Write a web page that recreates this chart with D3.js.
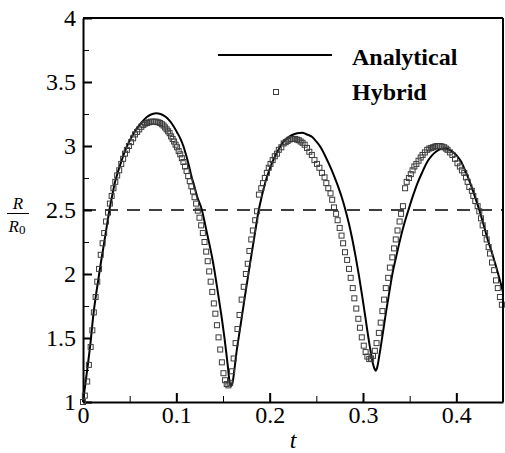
<!DOCTYPE html>
<html>
<head>
<meta charset="utf-8">
<script src="https://cdn.jsdelivr.net/npm/d3@7"></script>
<style>
    html, body { margin: 0; padding: 0; background: #fff; }
    text { font-family: "Liberation Serif", "Times New Roman", serif; }
</style>
</head>
<body>
<div id="chart"></div>
<script>
// Values (t, R/R0).
const xTicks = [0, 0.1, 0.2, 0.3, 0.4]
const xMinorTicks = [0.05, 0.15, 0.25, 0.35]
const yTicks = [1, 1.5, 2, 2.5, 3, 3.5, 4]
const yMinorTicks = [1.25, 1.75, 2.25, 2.75, 3.25, 3.75]
const thresholdR = 2.5
const seriesNames = ['Analytical', 'Hybrid']

const analyticalT = [
    0, 0.0025, 0.005, 0.008, 0.0111, 0.014, 0.0165, 0.0192, 0.0219, 0.025, 0.0283, 0.0315, 0.0344, 0.038, 0.0415,
    0.046, 0.0505, 0.056, 0.0612, 0.066, 0.0702, 0.0745, 0.0784, 0.083, 0.0881, 0.0925, 0.097, 0.1005, 0.1042,
    0.1075, 0.1106, 0.1137, 0.1167, 0.1195, 0.1221, 0.1274, 0.1302, 0.1328, 0.1355, 0.1382, 0.141, 0.1436, 0.1463,
    0.149, 0.1514, 0.1536, 0.1553, 0.1568, 0.1578, 0.1586, 0.1595, 0.1607, 0.1625, 0.1643, 0.1665, 0.1686, 0.1713,
    0.174, 0.1768, 0.1794, 0.1838, 0.1883, 0.192, 0.1955, 0.2, 0.2044, 0.209, 0.2134, 0.2188, 0.2241, 0.2295,
    0.2349, 0.24, 0.2456, 0.25, 0.2546, 0.259, 0.2635, 0.268, 0.2725, 0.277, 0.2814, 0.285, 0.2886, 0.292, 0.2957,
    0.2993, 0.3029, 0.3056, 0.3083, 0.31, 0.3118, 0.3128, 0.3136, 0.3145, 0.3155, 0.3172, 0.319, 0.3217, 0.3244,
    0.328, 0.3316, 0.336, 0.3405, 0.3445, 0.3487, 0.3535, 0.3584, 0.3638, 0.3692, 0.3737, 0.3781, 0.3825, 0.387,
    0.3915, 0.396, 0.4005, 0.4049, 0.4094, 0.4139, 0.4192, 0.4246, 0.429, 0.4336, 0.438, 0.4425, 0.45
]
const analyticalR = [
    1, 1.14, 1.28, 1.46, 1.68, 1.84, 1.96, 2.09, 2.21, 2.35, 2.5, 2.62, 2.72, 2.81, 2.89,
    2.98, 3.05, 3.12, 3.17, 3.21, 3.235, 3.25, 3.255, 3.25, 3.23, 3.2, 3.155, 3.11, 3.06,
    3, 2.925, 2.84, 2.75, 2.68, 2.61, 2.5, 2.41, 2.32, 2.23, 2.135, 2.02, 1.9, 1.77,
    1.64, 1.51, 1.38, 1.27, 1.17, 1.135, 1.125, 1.135, 1.17, 1.27, 1.38, 1.49, 1.59, 1.72,
    1.85, 1.98, 2.1, 2.3, 2.5, 2.62, 2.72, 2.82, 2.9, 2.965, 3.02, 3.06, 3.086, 3.1,
    3.104, 3.09, 3.07, 3.035, 2.99, 2.93, 2.86, 2.785, 2.7, 2.605, 2.495, 2.39, 2.27, 2.14, 1.985,
    1.82, 1.645, 1.51, 1.39, 1.32, 1.27, 1.252, 1.245, 1.255, 1.28, 1.35, 1.43, 1.56, 1.69,
    1.85, 2.005, 2.15, 2.29, 2.4, 2.5, 2.61, 2.71, 2.8, 2.88, 2.925, 2.955, 2.975, 2.98,
    2.975, 2.955, 2.925, 2.88, 2.81, 2.73, 2.62, 2.5, 2.39, 2.27, 2.17, 2.06, 1.86
]

const hybridT = [
    0, 0.002, 0.0045, 0.0063, 0.0082, 0.01, 0.0116, 0.0135, 0.0153, 0.0172, 0.019, 0.021, 0.0227, 0.0247, 0.0268,
    0.0288, 0.0307, 0.0326, 0.0346, 0.0366, 0.0388, 0.041, 0.043, 0.045, 0.047, 0.0492, 0.0515, 0.0537, 0.0557,
    0.058, 0.0602, 0.0625, 0.0646, 0.0666, 0.0686, 0.0706, 0.0726, 0.0746, 0.0766, 0.0786, 0.0806, 0.0826, 0.0845,
    0.0863, 0.088, 0.0896, 0.0912, 0.0928, 0.0944, 0.096, 0.0976, 0.0992, 0.1008, 0.1025, 0.1042, 0.1059, 0.1076,
    0.1093, 0.111, 0.1127, 0.1144, 0.1161, 0.1178, 0.1195, 0.1212, 0.123, 0.1248, 0.1266, 0.1284, 0.1302, 0.132,
    0.1336, 0.1352, 0.1368, 0.1385, 0.1402, 0.1418, 0.1435, 0.1452, 0.147, 0.1488, 0.1505, 0.1522, 0.154, 0.1558,
    0.1577, 0.1597, 0.1614, 0.1635, 0.1655, 0.1677, 0.17, 0.1722, 0.1745, 0.1765, 0.1783, 0.1803, 0.182, 0.1845,
    0.1865, 0.1885, 0.191, 0.1928, 0.1948, 0.197, 0.199, 0.2009, 0.2032, 0.2055, 0.2078, 0.2098, 0.2125, 0.215,
    0.2172, 0.2192, 0.2212, 0.2232, 0.2252, 0.2272, 0.2292, 0.2312, 0.2332, 0.2352, 0.2375, 0.24, 0.2425, 0.2452,
    0.248, 0.2507, 0.2533, 0.256, 0.2588, 0.2607, 0.2628, 0.2652, 0.267, 0.2689, 0.2712, 0.2728, 0.275, 0.277,
    0.2787, 0.2807, 0.283, 0.285, 0.2868, 0.289, 0.2907, 0.2928, 0.295, 0.2967, 0.2987, 0.3008, 0.3028, 0.3047,
    0.3067, 0.3087, 0.3107, 0.3127, 0.3145, 0.317, 0.319, 0.3208, 0.3226, 0.3244, 0.327, 0.3288, 0.3314, 0.3333,
    0.3351, 0.337, 0.3392, 0.3408, 0.3428, 0.3451, 0.3468, 0.3492, 0.3512, 0.3531, 0.355, 0.3572, 0.3595, 0.3618,
    0.3638, 0.3663, 0.3688, 0.371, 0.373, 0.375, 0.377, 0.379, 0.381, 0.383, 0.385, 0.387, 0.3888, 0.3906, 0.3931,
    0.3958, 0.3986, 0.4012, 0.4038, 0.406, 0.4085, 0.4103, 0.4121, 0.4139, 0.4166, 0.4182, 0.4203, 0.4228, 0.4246,
    0.4264, 0.4282, 0.4308, 0.4325, 0.4346, 0.4361, 0.4382, 0.4405, 0.4425, 0.4444, 0.4467, 0.4488
]
const hybridR = [
    1, 1.05, 1.16, 1.29, 1.43, 1.56, 1.7, 1.82, 1.94, 2.04, 2.15, 2.24, 2.32, 2.41, 2.48,
    2.55, 2.61, 2.67, 2.72, 2.77, 2.81, 2.86, 2.9, 2.94, 2.97, 3, 3.03, 3.06, 3.09,
    3.11, 3.13, 3.15, 3.165, 3.175, 3.18, 3.185, 3.19, 3.19, 3.19, 3.19, 3.185, 3.18, 3.17,
    3.16, 3.145, 3.13, 3.115, 3.1, 3.075, 3.055, 3.035, 3.01, 2.99, 2.96, 2.935, 2.905, 2.875,
    2.84, 2.805, 2.765, 2.725, 2.685, 2.645, 2.6, 2.55, 2.495, 2.44, 2.38, 2.32, 2.25, 2.175,
    2.1, 2.02, 1.94, 1.86, 1.77, 1.69, 1.6, 1.505, 1.41, 1.31, 1.225, 1.17, 1.14, 1.13,
    1.15, 1.24, 1.34, 1.46, 1.57, 1.68, 1.8, 1.9, 2, 2.08, 2.18, 2.27, 2.34, 2.42,
    2.49, 2.62, 2.67, 2.71, 2.75, 2.79, 2.83, 2.86, 2.89, 2.92, 2.94, 2.97, 2.99, 3.02,
    3.03, 3.04, 3.05, 3.055, 3.055, 3.055, 3.05, 3.045, 3.035, 3.025, 3.01, 2.985, 2.955, 2.93,
    2.89, 2.86, 2.83, 2.79, 2.755, 2.71, 2.67, 2.63, 2.58, 2.52, 2.47, 2.42, 2.36, 2.3,
    2.24, 2.17, 2.11, 2.04, 1.97, 1.89, 1.81, 1.73, 1.65, 1.58, 1.505, 1.44, 1.39, 1.355,
    1.335, 1.34, 1.36, 1.4, 1.46, 1.54, 1.62, 1.71, 1.8, 1.89, 1.97, 2.05, 2.13, 2.2,
    2.27, 2.34, 2.41, 2.47, 2.53, 2.67, 2.72, 2.75, 2.78, 2.81, 2.84, 2.86, 2.885, 2.91,
    2.93, 2.95, 2.97, 2.98, 2.985, 2.99, 2.995, 3, 3, 3, 2.995, 2.99, 2.98, 2.97, 2.95,
    2.93, 2.9, 2.865, 2.84, 2.81, 2.79, 2.755, 2.72, 2.68, 2.65, 2.61, 2.57, 2.53, 2.49,
    2.435, 2.38, 2.32, 2.27, 2.21, 2.16, 2.09, 2.03, 1.95, 1.89, 1.82, 1.76
]

function getTranslateString(x, y) {
    return 'translate(' + x + ', ' + y + ')'
}

class RadiusChart {
    constructor(width, height, divElementName) {
        this.width = width
        this.height = height
        this.divElementName = divElementName
        this.fontSize = 24
        this.initialize()
    }

    initialize = () => {
        this.setAxesStartAndEnd()
        this.createSVGInstance(this.divElementName)
        this.createXScale()
        this.createYScale()
        this.drawThresholdLine()
        this.drawAnalyticalLine()
        this.drawHybridSquares()
        this.drawFrame()
        this.createAxisLabels()
        this.drawLegend()
    }

    setAxesStartAndEnd = () => {
        this.xAxisStart = 83
        this.xAxisEnd = 503
        this.yAxisStart = 402
        this.yAxisEnd = 18
    }

    createSVGInstance = (divElement) => {
        this.svg = d3.select(divElement).append('svg').attr('width', this.width).attr('height', this.height)
    }

    styleAxis = (g) => {
        g.select('.domain').attr('stroke-width', 2)
        g.selectAll('text').attr('font-family', '"Liberation Serif", serif').attr('font-size', this.fontSize).attr('fill', '#000')
    }

    createXScale = () => {
        this.xScale = d3.scaleLinear().domain([0, 0.45]).range([this.xAxisStart, this.xAxisEnd])
        let major = d3.axisBottom(this.xScale).tickValues(xTicks).tickSize(-9).tickSizeOuter(0).tickPadding(4)
            .tickFormat(d3.format('~g'))
        let minor = d3.axisBottom(this.xScale).tickValues(xMinorTicks).tickSize(-6).tickFormat('')
        let gMinor = this.svg.append('g').attr('transform', getTranslateString(0, this.yAxisStart)).call(minor)
        gMinor.select('.domain').remove()
        let g = this.svg.append('g').attr('transform', getTranslateString(0, this.yAxisStart)).call(major)
        g.selectAll('.tick line').attr('stroke-width', 2)
        this.styleAxis(g)
    }

    createYScale = () => {
        this.yScale = d3.scaleLinear().domain([1, 4]).range([this.yAxisStart, this.yAxisEnd])
        let major = d3.axisLeft(this.yScale).tickValues(yTicks).tickSize(-9).tickSizeOuter(0).tickPadding(7)
            .tickFormat(d3.format('~g'))
        let minor = d3.axisLeft(this.yScale).tickValues(yMinorTicks).tickSize(-6).tickFormat('')
        let gMinor = this.svg.append('g').attr('transform', getTranslateString(this.xAxisStart, 0)).call(minor)
        gMinor.select('.domain').remove()
        let g = this.svg.append('g').attr('transform', getTranslateString(this.xAxisStart, 0)).call(major)
        g.selectAll('.tick line').attr('stroke-width', 2)
        this.styleAxis(g)
    }

    drawLine = (x1, x2, y1, y2, color, width) => {
        return this.svg.append('line').attr('x1', x1).attr('x2', x2).attr('y1', y1).attr('y2', y2)
            .style('stroke', color).style('stroke-width', width)
    }

    drawFrame = () => {
        // Top and right edges carry no ticks.
        this.drawLine(this.xAxisStart, this.xAxisEnd, this.yAxisEnd, this.yAxisEnd, '#000', 2)
        this.drawLine(this.xAxisEnd, this.xAxisEnd, this.yAxisEnd, this.yAxisStart, '#000', 2)
    }

    drawThresholdLine = () => {
        let y = this.yScale(thresholdR)
        this.drawLine(this.xAxisStart, this.xAxisEnd, y, y, '#000', 1.5).style('stroke-dasharray', '13,9')
    }

    drawAnalyticalLine = () => {
        let points = analyticalT.map((t, i) => [t, analyticalR[i]])
        let line = d3.line().x(d => this.xScale(d[0])).y(d => this.yScale(d[1])).curve(d3.curveMonotoneX)
        this.svg.append('path').datum(points).attr('d', line)
            .attr('fill', 'none').attr('stroke', '#000').attr('stroke-width', 2)
    }

    drawSquare = (cx, cy) => {
        this.svg.append('rect').attr('x', cx - 2.5).attr('y', cy - 2.5).attr('width', 5).attr('height', 5)
            .attr('fill', 'none').attr('stroke', '#3c3c3c').attr('stroke-width', 1)
    }

    drawHybridSquares = () => {
        for (let i = 0; i < hybridT.length; i++) {
            this.drawSquare(this.xScale(hybridT[i]), this.yScale(hybridR[i]))
        }
    }

    createAxisLabels = () => {
        this.svg.append('text').attr('x', (this.xAxisStart + this.xAxisEnd) / 2).attr('y', 448)
            .attr('text-anchor', 'middle').attr('font-size', this.fontSize).attr('font-style', 'italic').text('t')

        // R / R0 as a stacked fraction
        this.svg.append('text').attr('x', 18).attr('y', 209).attr('text-anchor', 'middle')
            .attr('font-size', 17).attr('font-style', 'italic').text('R')
        this.drawLine(7, 29, 213.5, 213.5, '#000', 1)
        let den = this.svg.append('text').attr('x', 17).attr('y', 232).attr('text-anchor', 'middle').attr('font-size', 17)
        den.append('tspan').attr('font-style', 'italic').text('R')
        den.append('tspan').attr('font-size', 13).attr('dy', 2).text('0')
    }

    drawLegend = () => {
        this.drawLine(218, 332, 55, 55, '#000', 2)
        this.drawSquare(276, 92)
        let labelY = [65, 100]
        seriesNames.forEach((name, i) => {
            this.svg.append('text').attr('x', 352).attr('y', labelY[i]).attr('font-size', this.fontSize)
                .attr('font-weight', 'bold').text(name)
        })
    }
}

new RadiusChart(505, 453, '#chart')
</script>
</body>
</html>
